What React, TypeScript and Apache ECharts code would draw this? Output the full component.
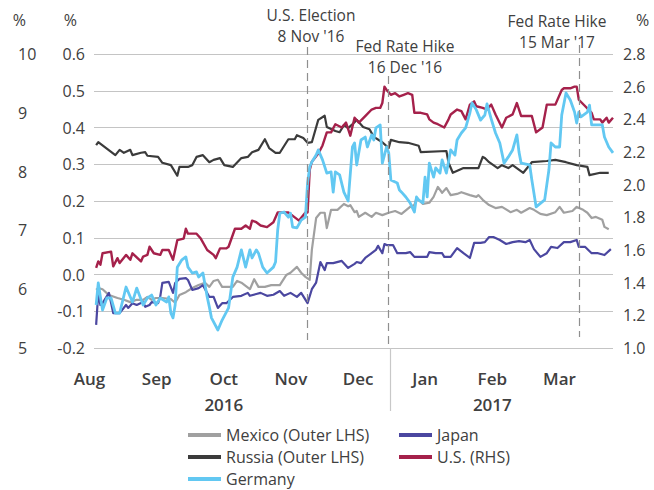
import React, { useEffect, useRef } from 'react';
import * as echarts from 'echarts';

const FONT = "'Open Sans', sans-serif";
const TXT = '#404040';

const months = ['Aug', 'Sep', 'Oct', 'Nov', 'Dec', 'Jan', 'Feb', 'Mar'];
const yearUnder: Record<string, string> = { Oct: '2016', Feb: '2017' };

const mexico: [string, number][] = [
  ['2016-08-01',5.99],['2016-08-02',6.02],['2016-08-04',6.00],['2016-08-07',5.90],['2016-08-11',5.85],['2016-08-14',5.82],['2016-08-17',5.78],['2016-08-20',5.82],['2016-08-23',5.82],['2016-08-25',5.87],['2016-08-27',5.82],['2016-08-29',5.85],['2016-09-01',5.85],['2016-09-05',5.83],['2016-09-07',5.77],['2016-09-09',5.90],['2016-09-12',5.95],['2016-09-15',6.02],['2016-09-18',6.07],['2016-09-21',6.11],['2016-09-23',6.04],['2016-09-25',6.14],['2016-09-27',6.16],['2016-09-29',6.04],['2016-10-01',6.04],['2016-10-04',6.04],['2016-10-06',6.14],['2016-10-08',6.11],['2016-10-12',6.00],['2016-10-14',6.17],['2016-10-16',6.04],['2016-10-19',6.04],['2016-10-22',6.07],['2016-10-26',6.07],['2016-10-29',6.24],['2016-10-31',6.28],['2016-11-03',6.38],['2016-11-05',6.28],['2016-11-07',6.21],['2016-11-09',6.16],['2016-11-10',6.67],['2016-11-12',7.21],['2016-11-14',7.30],['2016-11-16',7.30],['2016-11-17',7.04],['2016-11-19',7.35],['2016-11-22',7.35],['2016-11-25',7.45],['2016-11-27',7.41],['2016-11-28',7.43],['2016-11-30',7.31],['2016-12-01',7.33],['2016-12-02',7.23],['2016-12-05',7.30],['2016-12-08',7.23],['2016-12-10',7.30],['2016-12-13',7.26],['2016-12-16',7.30],['2016-12-19',7.33],['2016-12-22',7.28],['2016-12-26',7.40],['2016-12-28',7.43],['2016-12-29',7.55],['2017-01-01',7.45],['2017-01-04',7.47],['2017-01-06',7.57],['2017-01-08',7.74],['2017-01-10',7.64],['2017-01-12',7.72],['2017-01-14',7.60],['2017-01-17',7.62],['2017-01-19',7.65],['2017-01-23',7.60],['2017-01-26',7.57],['2017-01-27',7.60],['2017-01-29',7.52],['2017-02-01',7.43],['2017-02-04',7.38],['2017-02-07',7.40],['2017-02-11',7.31],['2017-02-14',7.35],['2017-02-16',7.30],['2017-02-20',7.38],['2017-02-22',7.35],['2017-02-25',7.28],['2017-02-28',7.26],['2017-03-04',7.31],['2017-03-06',7.40],['2017-03-08',7.30],['2017-03-12',7.33],['2017-03-14',7.40],['2017-03-17',7.35],['2017-03-19',7.30],['2017-03-21',7.21],['2017-03-23',7.23],['2017-03-26',7.18],['2017-03-27',7.06],['2017-03-29',7.02]
];

const russia: [string, number][] = [
  ['2016-08-01',8.45],['2016-08-02',8.50],['2016-08-10',8.28],['2016-08-12',8.37],['2016-08-14',8.32],['2016-08-17',8.37],['2016-08-18',8.28],['2016-08-22',8.32],['2016-08-24',8.33],['2016-08-25',8.27],['2016-08-30',8.25],['2016-09-01',8.15],['2016-09-05',8.11],['2016-09-08',7.93],['2016-09-09',8.08],['2016-09-13',8.08],['2016-09-15',8.11],['2016-09-17',8.25],['2016-09-20',8.28],['2016-09-23',8.16],['2016-09-25',8.20],['2016-09-28',8.23],['2016-09-30',8.11],['2016-10-04',8.08],['2016-10-08',8.23],['2016-10-11',8.25],['2016-10-13',8.33],['2016-10-16',8.37],['2016-10-19',8.55],['2016-10-21',8.40],['2016-10-24',8.32],['2016-10-26',8.32],['2016-10-30',8.55],['2016-11-02',8.55],['2016-11-03',8.62],['2016-11-06',8.57],['2016-11-08',8.49],['2016-11-10',8.50],['2016-11-13',8.88],['2016-11-16',8.95],['2016-11-17',8.76],['2016-11-21',8.69],['2016-11-23',8.67],['2016-11-25',8.79],['2016-11-27',8.74],['2016-11-30',8.84],['2016-12-01',8.88],['2016-12-04',8.76],['2016-12-07',8.72],['2016-12-09',8.59],['2016-12-13',8.50],['2016-12-16',8.40],['2016-12-17',8.54],['2016-12-21',8.50],['2016-12-25',8.49],['2016-12-30',8.44],['2016-12-31',8.33],['2017-01-12',8.35],['2017-01-13',8.15],['2017-01-15',7.98],['2017-01-20',8.06],['2017-01-27',8.06],['2017-01-29',8.25],['2017-01-30',8.23],['2017-02-01',8.16],['2017-02-05',8.06],['2017-02-07',8.11],['2017-02-10',8.06],['2017-02-12',8.11],['2017-02-17',7.98],['2017-02-21',8.16],['2017-02-28',8.18],['2017-03-04',8.20],['2017-03-09',8.16],['2017-03-14',8.11],['2017-03-19',8.08],['2017-03-20',7.94],['2017-03-25',7.98],['2017-03-29',7.98]
];

const japan: [string, number][] = [
  ['2016-08-01',-0.137],['2016-08-02',-0.050],['2016-08-03',-0.083],['2016-08-04',-0.078],['2016-08-07',-0.050],['2016-08-09',-0.105],['2016-08-12',-0.105],['2016-08-15',-0.083],['2016-08-16',-0.091],['2016-08-18',-0.078],['2016-08-20',-0.083],['2016-08-23',-0.075],['2016-08-24',-0.088],['2016-08-26',-0.083],['2016-08-27',-0.075],['2016-08-30',-0.078],['2016-08-31',-0.061],['2016-09-01',-0.023],['2016-09-04',-0.020],['2016-09-06',-0.050],['2016-09-07',-0.023],['2016-09-09',-0.012],['2016-09-12',-0.010],['2016-09-13',-0.015],['2016-09-15',-0.042],['2016-09-18',-0.037],['2016-09-20',-0.029],['2016-09-23',-0.061],['2016-09-25',-0.061],['2016-09-27',-0.091],['2016-09-29',-0.078],['2016-10-01',-0.078],['2016-10-04',-0.061],['2016-10-08',-0.058],['2016-10-11',-0.050],['2016-10-12',-0.058],['2016-10-15',-0.053],['2016-10-17',-0.050],['2016-10-20',-0.058],['2016-10-23',-0.055],['2016-10-26',-0.045],['2016-10-28',-0.058],['2016-10-31',-0.050],['2016-11-03',-0.061],['2016-11-05',-0.050],['2016-11-08',-0.078],['2016-11-10',-0.040],['2016-11-12',-0.022],['2016-11-14',0.034],['2016-11-16',0.012],['2016-11-17',0.031],['2016-11-20',0.031],['2016-11-24',0.037],['2016-11-27',0.018],['2016-11-30',0.029],['2016-12-01',0.034],['2016-12-03',0.031],['2016-12-05',0.045],['2016-12-08',0.058],['2016-12-10',0.067],['2016-12-11',0.078],['2016-12-13',0.058],['2016-12-14',0.083],['2016-12-15',0.080],['2016-12-18',0.080],['2016-12-20',0.058],['2016-12-24',0.058],['2016-12-26',0.061],['2016-12-28',0.048],['2017-01-03',0.048],['2017-01-04',0.061],['2017-01-07',0.058],['2017-01-10',0.058],['2017-01-11',0.048],['2017-01-14',0.048],['2017-01-17',0.072],['2017-01-20',0.058],['2017-01-23',0.045],['2017-01-25',0.086],['2017-01-28',0.086],['2017-01-30',0.088],['2017-02-01',0.102],['2017-02-03',0.102],['2017-02-06',0.094],['2017-02-09',0.083],['2017-02-12',0.088],['2017-02-15',0.091],['2017-02-18',0.088],['2017-02-20',0.094],['2017-02-22',0.069],['2017-02-25',0.048],['2017-02-28',0.058],['2017-03-02',0.075],['2017-03-05',0.072],['2017-03-08',0.088],['2017-03-11',0.088],['2017-03-14',0.094],['2017-03-15',0.075],['2017-03-18',0.075],['2017-03-21',0.058],['2017-03-24',0.058],['2017-03-27',0.053],['2017-03-30',0.069]
];

const us: [string, number][] = [
  ['2016-08-01',1.49],['2016-08-02',1.53],['2016-08-03',1.51],['2016-08-04',1.58],['2016-08-08',1.59],['2016-08-09',1.50],['2016-08-11',1.55],['2016-08-12',1.52],['2016-08-15',1.57],['2016-08-17',1.54],['2016-08-18',1.58],['2016-08-22',1.53],['2016-08-23',1.56],['2016-08-25',1.57],['2016-08-26',1.62],['2016-08-28',1.58],['2016-08-31',1.57],['2016-09-01',1.60],['2016-09-04',1.60],['2016-09-06',1.54],['2016-09-08',1.66],['2016-09-11',1.67],['2016-09-12',1.73],['2016-09-13',1.70],['2016-09-17',1.70],['2016-09-19',1.67],['2016-09-22',1.60],['2016-09-25',1.57],['2016-09-26',1.55],['2016-09-28',1.61],['2016-10-01',1.61],['2016-10-02',1.62],['2016-10-05',1.73],['2016-10-08',1.73],['2016-10-10',1.75],['2016-10-12',1.73],['2016-10-13',1.78],['2016-10-15',1.77],['2016-10-17',1.75],['2016-10-20',1.74],['2016-10-23',1.77],['2016-10-25',1.83],['2016-10-28',1.83],['2016-10-30',1.83],['2016-11-02',1.80],['2016-11-04',1.78],['2016-11-07',1.83],['2016-11-08',1.83],['2016-11-09',2.09],['2016-11-10',2.14],['2016-11-13',2.19],['2016-11-15',2.24],['2016-11-17',2.32],['2016-11-19',2.32],['2016-11-21',2.37],['2016-11-24',2.35],['2016-11-26',2.38],['2016-11-28',2.30],['2016-11-30',2.41],['2016-12-02',2.38],['2016-12-05',2.42],['2016-12-08',2.46],['2016-12-10',2.47],['2016-12-12',2.47],['2016-12-13',2.50],['2016-12-14',2.60],['2016-12-15',2.58],['2016-12-17',2.55],['2016-12-19',2.56],['2016-12-21',2.54],['2016-12-23',2.55],['2016-12-25',2.56],['2016-12-27',2.55],['2016-12-28',2.44],['2016-12-31',2.44],['2017-01-03',2.43],['2017-01-04',2.40],['2017-01-06',2.38],['2017-01-08',2.37],['2017-01-11',2.35],['2017-01-13',2.40],['2017-01-14',2.43],['2017-01-17',2.46],['2017-01-19',2.45],['2017-01-21',2.40],['2017-01-23',2.49],['2017-01-25',2.51],['2017-01-26',2.48],['2017-01-29',2.47],['2017-01-31',2.46],['2017-02-02',2.49],['2017-02-04',2.43],['2017-02-07',2.35],['2017-02-09',2.41],['2017-02-12',2.43],['2017-02-14',2.50],['2017-02-16',2.42],['2017-02-21',2.42],['2017-02-23',2.32],['2017-02-26',2.35],['2017-02-28',2.49],['2017-03-04',2.49],['2017-03-07',2.58],['2017-03-08',2.59],['2017-03-11',2.59],['2017-03-13',2.60],['2017-03-14',2.60],['2017-03-15',2.52],['2017-03-18',2.48],['2017-03-21',2.44],['2017-03-22',2.40],['2017-03-25',2.40],['2017-03-26',2.38],['2017-03-28',2.41],['2017-03-29',2.38],['2017-03-31',2.41]
];

const germany: [string, number][] = [
  ['2016-08-01',-0.083],['2016-08-02',-0.023],['2016-08-03',-0.061],['2016-08-04',-0.097],['2016-08-06',-0.064],['2016-08-08',-0.064],['2016-08-10',-0.105],['2016-08-12',-0.105],['2016-08-15',-0.034],['2016-08-18',-0.075],['2016-08-20',-0.037],['2016-08-23',-0.083],['2016-08-25',-0.064],['2016-08-27',-0.056],['2016-08-29',-0.083],['2016-08-31',-0.064],['2016-09-03',-0.075],['2016-09-04',-0.061],['2016-09-05',-0.105],['2016-09-06',-0.118],['2016-09-07',-0.083],['2016-09-08',0.020],['2016-09-10',0.039],['2016-09-12',0.048],['2016-09-13',0.020],['2016-09-15',0.004],['2016-09-17',0.007],['2016-09-18',-0.007],['2016-09-20',0.004],['2016-09-22',-0.061],['2016-09-23',-0.088],['2016-09-24',-0.118],['2016-09-27',-0.151],['2016-09-29',-0.124],['2016-10-02',-0.091],['2016-10-04',-0.007],['2016-10-06',0.020],['2016-10-08',0.067],['2016-10-10',0.020],['2016-10-12',0.067],['2016-10-13',0.045],['2016-10-15',0.067],['2016-10-16',0.058],['2016-10-18',0.020],['2016-10-20',0.004],['2016-10-23',0.020],['2016-10-24',0.034],['2016-10-25',0.121],['2016-10-26',0.167],['2016-10-28',0.170],['2016-10-30',0.156],['2016-10-31',0.167],['2016-11-01',0.129],['2016-11-03',0.127],['2016-11-05',0.148],['2016-11-07',0.156],['2016-11-08',0.249],['2016-11-09',0.293],['2016-11-10',0.306],['2016-11-12',0.325],['2016-11-13',0.339],['2016-11-15',0.312],['2016-11-17',0.276],['2016-11-19',0.279],['2016-11-20',0.224],['2016-11-21',0.279],['2016-11-23',0.271],['2016-11-25',0.224],['2016-11-27',0.200],['2016-11-29',0.347],['2016-11-30',0.358],['2016-12-01',0.298],['2016-12-03',0.366],['2016-12-05',0.374],['2016-12-06',0.347],['2016-12-08',0.380],['2016-12-09',0.366],['2016-12-10',0.399],['2016-12-12',0.407],['2016-12-13',0.303],['2016-12-15',0.347],['2016-12-16',0.331],['2016-12-17',0.257],['2016-12-20',0.249],['2016-12-21',0.230],['2016-12-22',0.224],['2016-12-24',0.211],['2016-12-26',0.195],['2016-12-28',0.170],['2016-12-29',0.211],['2016-12-30',0.203],['2017-01-01',0.195],['2017-01-02',0.265],['2017-01-03',0.211],['2017-01-04',0.303],['2017-01-06',0.265],['2017-01-07',0.290],['2017-01-09',0.276],['2017-01-10',0.312],['2017-01-12',0.276],['2017-01-14',0.339],['2017-01-16',0.325],['2017-01-17',0.366],['2017-01-19',0.385],['2017-01-21',0.399],['2017-01-23',0.440],['2017-01-24',0.467],['2017-01-26',0.448],['2017-01-28',0.420],['2017-01-30',0.434],['2017-01-31',0.464],['2017-02-02',0.423],['2017-02-04',0.385],['2017-02-06',0.358],['2017-02-08',0.303],['2017-02-10',0.320],['2017-02-12',0.339],['2017-02-14',0.380],['2017-02-15',0.333],['2017-02-16',0.303],['2017-02-20',0.298],['2017-02-21',0.257],['2017-02-23',0.184],['2017-02-27',0.203],['2017-03-01',0.285],['2017-03-02',0.358],['2017-03-04',0.347],['2017-03-06',0.347],['2017-03-07',0.434],['2017-03-09',0.494],['2017-03-11',0.475],['2017-03-13',0.442],['2017-03-14',0.412],['2017-03-15',0.442],['2017-03-16',0.429],['2017-03-19',0.442],['2017-03-20',0.461],['2017-03-21',0.407],['2017-03-24',0.407],['2017-03-26',0.407],['2017-03-27',0.374],['2017-03-29',0.347],['2017-03-31',0.331]
];

// event dates (dashed markers) and the year divider
const eventDates = ['2016-11-08', '2016-12-16', '2017-03-15'];
const yearDivider = '2016-12-16 12:00';
const annotations = [
  { lines: ['U.S. Election', "8 Nov '16"], x: 311, y: 15 },
  { lines: ['Fed Rate Hike', "16 Dec '16"], x: 405, y: 46 },
  { lines: ['Fed Rate Hike', "15 Mar '17"], x: 557, y: 21 },
];

const fmt1 = (v: number) => (Math.abs(v) < 1e-9 ? '0.0' : v.toFixed(1));

export default function App() {
  const ref = useRef<HTMLDivElement>(null);
  useEffect(() => {
    document.body.style.margin = '0';
    if (!ref.current) return;
    const chart = echarts.init(ref.current, undefined, { renderer: 'svg' });

    const lineSeries = (name: string, data: [string, number][], color: string, width: number, yAxisIndex: number) => ({
      type: 'line', name, data, xAxisIndex: 0, yAxisIndex,
      symbol: 'none', showSymbol: false,
      lineStyle: { color, width, join: 'round' },
      itemStyle: { color },
      emphasis: { disabled: true },
    });

    const axisLabelBase = { fontFamily: FONT, fontSize: 16, color: TXT };
    const legendBase = {
      orient: 'vertical', top: 427, height: 80, padding: 0,
      icon: 'rect', itemWidth: 33, itemHeight: 4, itemGap: 6, selectedMode: false,
      textStyle: { fontFamily: FONT, fontSize: 16, color: TXT, lineHeight: 16 },
    };

    const graphic: any[] = [];
    annotations.forEach((a) => {
      a.lines.forEach((t, i) => {
        graphic.push({ type: 'text', x: a.x, y: a.y + i * 21, style: { text: t, align: 'center', verticalAlign: 'middle', fontFamily: FONT, fontSize: 15.5, fill: TXT } });
      });
    });

    const option: any = {
      animation: false,
      textStyle: { fontFamily: FONT, color: TXT },
      grid: [
        { left: 94, right: 41, top: 54, bottom: 142, containLabel: false },
        { left: 56, width: 537, top: 54, bottom: 142, containLabel: false },
        { left: 94, right: 41, top: 0, bottom: 0, containLabel: false },
      ],
      xAxis: [
        { type: 'time', gridIndex: 0, min: '2016-07-31', max: '2017-03-31', axisLine: { show: false }, axisTick: { show: false }, axisLabel: { show: false }, splitLine: { show: false } },
        { type: 'category', gridIndex: 1, data: months, boundaryGap: true, axisLine: { show: false }, axisTick: { show: false }, splitLine: { show: false },
          axisLabel: { interval: 0, margin: 17, fontFamily: FONT, fontSize: 17, fontWeight: 600, color: TXT, lineHeight: 26,
            formatter: (v: string) => (yearUnder[v] ? `${v}\n${yearUnder[v]}` : v) } },
        { type: 'time', gridIndex: 2, min: '2016-07-31', max: '2017-03-31', show: false },
      ],
      yAxis: [
        { type: 'value', gridIndex: 0, position: 'left', min: -0.2, max: 0.6, interval: 0.1,
          axisLine: { show: false }, axisTick: { show: false },
          splitLine: { show: true, lineStyle: { color: '#c4c4c4', width: 1.2 } },
          axisLabel: { ...axisLabelBase, margin: 9, formatter: fmt1 },
          name: '%', nameLocation: 'end', nameGap: 26,
          nameTextStyle: { ...axisLabelBase, align: 'right', lineHeight: 16, padding: [0, 17, 0, 0] } },
        { type: 'value', gridIndex: 0, position: 'left', offset: 60, min: 5, max: 10, interval: 1,
          axisLine: { show: false }, axisTick: { show: false }, splitLine: { show: false },
          axisLabel: { ...axisLabelBase, margin: 16, align: 'left' },
          name: '%', nameLocation: 'end', nameGap: 26,
          nameTextStyle: { ...axisLabelBase, align: 'right', lineHeight: 16, padding: [0, 8, 0, 0] } },
        { type: 'value', gridIndex: 0, position: 'right', min: 1.0, max: 2.8, interval: 0.2,
          axisLine: { show: false }, axisTick: { show: false }, splitLine: { show: false },
          axisLabel: { ...axisLabelBase, margin: 10, align: 'left', formatter: fmt1 },
          name: '%', nameLocation: 'end', nameGap: 26,
          nameTextStyle: { ...axisLabelBase, align: 'left', lineHeight: 16, padding: [0, 0, 0, 23] } },
        { type: 'value', gridIndex: 2, min: 0, max: 490, inverse: true, show: false },
        { type: 'value', gridIndex: 1, show: false },
      ],
      legend: [
        { ...legendBase, data: ['Mexico (Outer LHS)', 'Russia (Outer LHS)', 'Germany'], left: 188 },
        { ...legendBase, data: ['Japan', 'U.S. (RHS)'], left: 399 },
      ],
      graphic,
      series: [
        lineSeries('Mexico (Outer LHS)', mexico, '#a0a0a0', 2.2, 1),
        lineSeries('Russia (Outer LHS)', russia, '#3b3b3b', 2.2, 1),
        lineSeries('Japan', japan, '#4b47a0', 2.2, 0),
        lineSeries('U.S. (RHS)', us, '#a5214b', 2.4, 2),
        lineSeries('Germany', germany, '#62c8f2', 2.8, 0),
        {
          type: 'line', name: 'events', xAxisIndex: 2, yAxisIndex: 3,
          data: [[eventDates[0], 0]], symbol: 'none', lineStyle: { opacity: 0 }, silent: true,
          markLine: {
            silent: true, symbol: ['none', 'none'], label: { show: false },
            lineStyle: { color: '#8f8f8f', width: 1.2, type: [8, 5] },
            data: [
              [{ coord: [eventDates[0], 47] }, { coord: [eventDates[0], 340] }],
              [{ coord: [eventDates[1], 76] }, { coord: [eventDates[1], 348] }],
              [{ coord: [eventDates[2], 45] }, { coord: [eventDates[2], 337] }],
              [{ coord: [yearDivider, 348], lineStyle: { type: 'solid', color: '#c8c8c8', width: 1.2 } }, { coord: [yearDivider, 411] }],
            ],
          },
        },
      ],
    };
    chart.setOption(option);
    return () => chart.dispose();
  }, []);
  return <div ref={ref} style={{ width: 654, height: 490 }} />;
}
